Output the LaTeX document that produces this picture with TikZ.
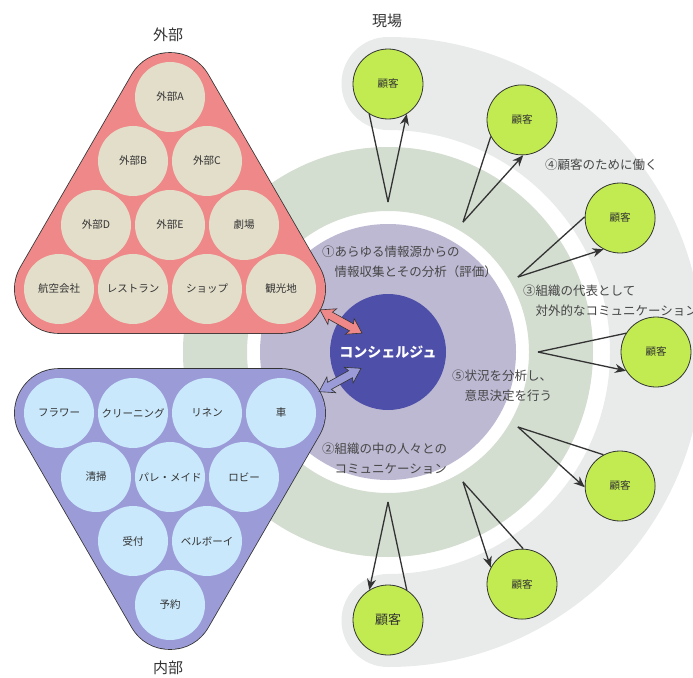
\documentclass[tikz,border=0pt]{standalone}
\usepackage{fontspec}
\setmainfont{Noto Sans CJK JP}
\usepackage{tikz}
\usetikzlibrary{arrows.meta}
\definecolor{bandgray}{RGB}{232,235,233}
\definecolor{ringgreen}{RGB}{211,221,208}
\definecolor{ringlav}{RGB}{189,185,211}
\definecolor{concierge}{RGB}{78,79,168}
\definecolor{rose}{RGB}{239,136,136}
\definecolor{sand}{RGB}{227,222,202}
\definecolor{periwinkle}{RGB}{155,155,216}
\definecolor{skypale}{RGB}{201,232,251}
\definecolor{lime}{RGB}{193,235,80}
\definecolor{graydark}{RGB}{51,51,51}
\definecolor{graytext}{RGB}{70,70,70}
\tikzset{
  member/.style={
    circle, minimum size=70pt, inner sep=0pt,
    font=\fontsize{10.5}{12}\selectfont, text=graydark
  },
  outside/.style={member, fill=sand},
  inside/.style={member, fill=skypale},
  guest/.style={
    member, draw=graydark, line width=0.8pt, fill=lime
  },
  heading/.style={font=\fontsize{15}{18}\selectfont, text=graydark},
  note/.style={
    anchor=north west, align=left, inner sep=0pt,
    text=graytext, font=\fontsize{12.5}{20}\selectfont
  },
  plain/.style={draw=graydark, line width=1.3pt},
  arrow/.style={-{Stealth[length=11pt, width=9pt]}, draw=graydark, line width=1.3pt},
  link/.style={draw=graydark, line width=0.6pt, line join=miter},
  hullout/.style={line width=89.6pt, line join=round, draw=graydark},
  hull/.style={line width=88pt, line join=round}
}

\begin{document}
\begin{tikzpicture}[x=1pt, y=1pt]
  \fill[white] (0,0) rectangle (693,-677);
  \useasboundingbox (0,0) rectangle (693,-677);
  \coordinate (ctr) at (388,-352);

  % rings round the concierge
  \draw[bandgray, line width=93pt, line cap=round]
    ([shift={(90:268.5)}]ctr) arc[start angle=90, end angle=-90, radius=268.5];
  \fill[ringgreen, even odd rule] (ctr) circle[radius=205] (ctr) circle[radius=141];
  \fill[ringlav] (ctr) circle[radius=128];
  \node[circle, fill=concierge, minimum size=116pt, inner sep=0pt, text=white,
        font=\fontsize{14}{16}\selectfont\bfseries] (con) at (ctr) {コンシェルジュ};

  \node[note] (n1) at (322,-246) {①あらゆる情報源からの\\\hspace*{1em}情報収集とその分析（評価）};
  \node[note] (n2) at (322,-443) {②組織の中の人々との\\\hspace*{1em}コミュニケーション};
  \node[note] (n3) at (523,-285) {③組織の代表として\\\hspace*{1em}対外的なコミュニケーション};
  \node[note] (n4) at (545,-159) {④顧客のために働く};
  \node[note] (n5) at (452,-370) {⑤状況を分析し、\\\hspace*{1em}意思決定を行う};

  % outside group
  \coordinate (ot) at (170,-97);
  \coordinate (ol) at (59,-289);
  \coordinate (or) at (281,-289);
  \draw[hullout] (ot) -- (ol) -- (or) -- cycle;
  \filldraw[hull, draw=rose, fill=rose] (ot) -- (ol) -- (or) -- cycle;
  \node[heading] (outlabel) at (168,-35) {外部};
  \node[outside] (ea) at (170,-97) {外部A};
  \node[outside] (eb) at (133,-161) {外部B};
  \node[outside] (ec) at (207,-161) {外部C};
  \node[outside] (ed) at (96,-225) {外部D};
  \node[outside] (ee) at (170,-225) {外部E};
  \node[outside] (ef) at (244,-225) {劇場};
  \node[outside] (eg) at (59,-289) {航空会社};
  \node[outside] (eh) at (133,-289) {レストラン};
  \node[outside] (ei) at (207,-289) {ショップ};
  \node[outside] (ej) at (281,-289) {観光地};

  % inside group
  \coordinate (il) at (59,-413);
  \coordinate (ir) at (281,-413);
  \coordinate (ib) at (170,-605);
  \draw[hullout] (il) -- (ir) -- (ib) -- cycle;
  \filldraw[hull, draw=periwinkle, fill=periwinkle] (il) -- (ir) -- (ib) -- cycle;
  \node[heading] (inlabel) at (168,-668) {内部};
  \node[inside] (ia) at (59,-413) {フラワー};
  \node[inside] (ib) at (133,-413) {クリーニング};
  \node[inside] (ic) at (207,-413) {リネン};
  \node[inside] (id) at (281,-413) {車};
  \node[inside] (ie) at (96,-477) {清掃};
  \node[inside] (if) at (170,-477) {パレ・メイド};
  \node[inside] (ig) at (244,-477) {ロビー};
  \node[inside] (ih) at (133,-541) {受付};
  \node[inside] (ii) at (207,-541) {ベルボーイ};
  \node[inside] (ij) at (170,-605) {予約};

  % two-way links to the concierge
  \filldraw[link, fill=rose, shift={(341,-321.5)}, rotate=-29]
    (-24,0) -- (-10,9) -- (-12,4) -- (12,4) -- (10,9) -- (24,0)
    -- (10,-9) -- (12,-4) -- (-12,-4) -- (-10,-9) -- cycle;
  \filldraw[link, fill=periwinkle, shift={(340,-380)}, rotate=29]
    (-24,0) -- (-10,9) -- (-12,4) -- (12,4) -- (10,9) -- (24,0)
    -- (10,-9) -- (12,-4) -- (-12,-4) -- (-10,-9) -- cycle;

  % customers on site
  \node[heading] (sitelabel) at (387,-21) {現場};
  \node[guest] (c1) at ([shift={(90:268)}]ctr) {顧客};
  \node[guest] (c2) at ([shift={(60:268)}]ctr) {顧客};
  \node[guest] (c3) at ([shift={(30:268)}]ctr) {顧客};
  \node[guest] (c4) at ([shift={(0:268)}]ctr) {顧客};
  \node[guest] (c5) at ([shift={(-30:268)}]ctr) {顧客};
  \node[guest] (c6) at ([shift={(-60:268)}]ctr) {顧客};
  \node[guest, font=\fontsize{13}{15}\selectfont] (c7) at ([shift={(-90:268)}]ctr) {顧客};

  \coordinate (a1) at ([shift={(90:150)}]ctr);
  \coordinate (a2) at ([shift={(60:150)}]ctr);
  \coordinate (a3) at ([shift={(30:150)}]ctr);
  \coordinate (a4) at ([shift={(0:150)}]ctr);
  \coordinate (a5) at ([shift={(-30:150)}]ctr);
  \coordinate (a6) at ([shift={(-60:150)}]ctr);
  \coordinate (a7) at ([shift={(-90:150)}]ctr);

  \draw[plain] (a1) -- (c1.238);
  \draw[arrow] (a1) -- (c1.302);
  \draw[plain] (a2) -- (c2.208);
  \draw[arrow] (a2) -- (c2.272);
  \draw[plain] (a3) -- (c3.178);
  \draw[arrow] (a3) -- (c3.242);
  \draw[plain] (a4) -- (c4.148);
  \draw[arrow] (a4) -- (c4.212);
  \draw[plain] (a5) -- (c5.118);
  \draw[arrow] (a5) -- (c5.182);
  \draw[plain] (a6) -- (c6.88);
  \draw[arrow] (a6) -- (c6.152);
  \draw[plain] (a7) -- (c7.58);
  \draw[arrow] (a7) -- (c7.122);
\end{tikzpicture}
\end{document}
